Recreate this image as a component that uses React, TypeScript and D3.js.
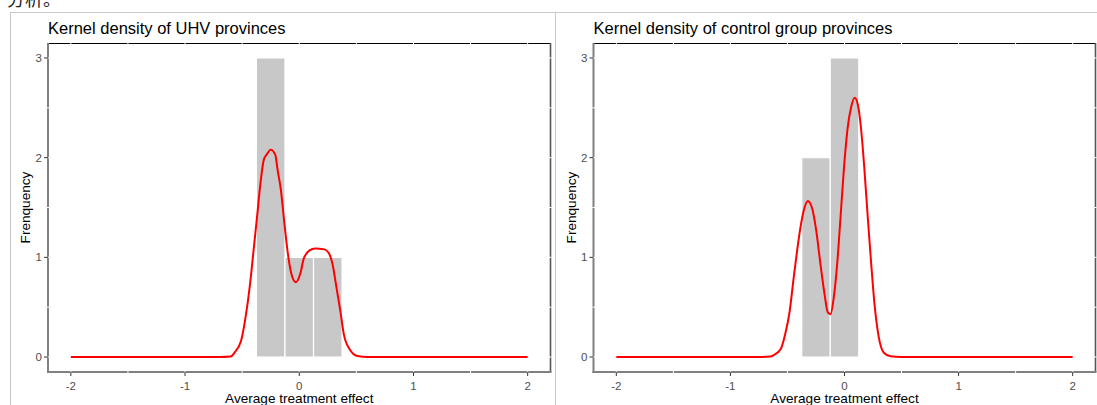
import React from "react";
import * as d3 from "d3";

// histogram bins (left edges) and counts, bin width 0.25
const uhvBinStart = [-0.375, -0.125, 0.125];
const uhvCounts = [3, 1, 1];
const ctrlBinStart = [-0.375, -0.125];
const ctrlCounts = [2, 3];
const binWidth = 0.25;

// kernel density curves
const uhvX = [-2, -0.7, -0.6, -0.57, -0.51, -0.47, -0.43, -0.4, -0.37, -0.34, -0.31, -0.28, -0.25, -0.21, -0.19, -0.16, -0.13, -0.1, -0.07, -0.03, 0.01, 0.04, 0.09, 0.14, 0.22, 0.26, 0.29, 0.32, 0.36, 0.39, 0.44, 0.51, 0.6, 2];
const uhvY = [0, 0, 0.005, 0.04, 0.16, 0.4, 0.74, 1.07, 1.4, 1.74, 1.98, 2.04, 2.08, 2.03, 1.88, 1.67, 1.34, 1.04, 0.84, 0.75, 0.84, 0.99, 1.07, 1.09, 1.08, 1.04, 0.94, 0.74, 0.46, 0.23, 0.08, 0.01, 0, 0];
const ctrlX = [-2, -0.75, -0.65, -0.62, -0.56, -0.52, -0.48, -0.445, -0.415, -0.386, -0.357, -0.322, -0.283, -0.248, -0.211, -0.175, -0.146, -0.123, -0.094, -0.064, -0.035, -0.006, 0.029, 0.059, 0.09, 0.117, 0.146, 0.175, 0.204, 0.234, 0.263, 0.301, 0.345, 0.404, 0.5, 2];
const ctrlY = [0, 0, 0.005, 0.02, 0.078, 0.229, 0.464, 0.8, 1.069, 1.3, 1.47, 1.566, 1.49, 1.27, 0.935, 0.632, 0.447, 0.43, 0.598, 0.935, 1.4, 1.875, 2.31, 2.51, 2.6, 2.53, 2.28, 1.875, 1.4, 0.935, 0.53, 0.195, 0.043, 0.007, 0, 0];

const xTicks = [-2, -1, 0, 1, 2];
const yTicks = [0, 1, 2, 3];
const xGrid = [-2, -1.5, -1, -0.5, 0, 0.5, 1, 1.5, 2];
const yGrid = [0, 0.5, 1, 1.5, 2, 2.5, 3];

const font = "'Liberation Sans', Arial, sans-serif";
const axisGrey = "#808080";

function Panel({ left, right, title, binStart, counts, cx, cy }) {
  const top = 43, bottom = 372;
  const x = d3.scaleLinear().domain([-2.2, 2.2]).range([left, right]);
  const y = d3.scaleLinear().domain([-0.15, 3.15]).range([bottom, top]);
  const line = d3
    .line<number>()
    .x((d, i) => x(cx[i]))
    .y((d) => y(d))
    .curve(d3.curveMonotoneX);
  const midX = (left + right) / 2;

  return (
    <g>
      <text x={left} y={34} fontFamily={font} fontSize={16.5} fill="#000">
        {title}
      </text>
      {/* panel border */}
      <line x1={left} x2={right} y1={top + 0.5} y2={top + 0.5} stroke="#000" strokeWidth={1} />
      <line x1={right} x2={right} y1={top} y2={bottom} stroke="#555" strokeWidth={1.6} />
      <line x1={left} x2={left} y1={top} y2={bottom + 1} stroke={axisGrey} strokeWidth={2} />
      <line x1={left - 1} x2={right + 1} y1={bottom} y2={bottom} stroke={axisGrey} strokeWidth={2} />
      {/* white grid */}
      {xGrid.map((g) => (
        <line key={"gx" + g} x1={x(g)} x2={x(g)} y1={top - 1} y2={bottom + 1} stroke="#fff" strokeWidth={1} />
      ))}
      {yGrid.map((g) => (
        <line key={"gy" + g} x1={left - 1} x2={right + 1} y1={y(g)} y2={y(g)} stroke="#fff" strokeWidth={1} />
      ))}
      {/* bars */}
      {binStart.map((b, i) => (
        <rect
          key={"b" + i}
          x={x(b)}
          y={y(counts[i])}
          width={x(b + binWidth) - x(b)}
          height={y(0) - y(counts[i])}
          fill="#c8c8c8"
          stroke="#fff"
          strokeWidth={1.2}
        />
      ))}
      <path d={line(cy) || ""} fill="none" stroke="#ff0000" strokeWidth={2} />
      {/* ticks */}
      {xTicks.map((t) => (
        <g key={"xt" + t}>
          <line x1={x(t)} x2={x(t)} y1={bottom} y2={bottom + 4} stroke="#333" strokeWidth={1} />
          <text x={x(t)} y={390} textAnchor="middle" fontFamily={font} fontSize={11.5} fill="#4d4d4d">
            {t}
          </text>
        </g>
      ))}
      {yTicks.map((t) => (
        <g key={"yt" + t}>
          <line x1={left - 4} x2={left} y1={y(t)} y2={y(t)} stroke="#333" strokeWidth={1} />
          <text x={left - 6} y={y(t)} dy="0.36em" textAnchor="end" fontFamily={font} fontSize={11.5} fill="#4d4d4d">
            {t}
          </text>
        </g>
      ))}
      <text x={midX} y={403} textAnchor="middle" fontFamily={font} fontSize={13.6} fill="#000">
        Average treatment effect
      </text>
      <text
        transform={`translate(${left - 18},${(top + bottom) / 2}) rotate(-90)`}
        textAnchor="middle"
        fontFamily={font}
        fontSize={13.6}
        fill="#000"
      >
        Frenquency
      </text>
    </g>
  );
}

export default function App() {
  return (
    <svg
      width={1097}
      height={405}
      style={{ position: "absolute", left: 0, top: 0, background: "#fff" }}
    >
      <rect x={0} y={0} width={1097} height={405} fill="#fff" />
      <text x={7} y={6} fontFamily="'Noto Sans CJK SC', sans-serif" fontSize={18} fill="#222">
        分析。
      </text>
      {/* screenshot frame */}
      <line x1={10} x2={1097} y1={12.5} y2={12.5} stroke="#c8c8c8" strokeWidth={1} />
      <line x1={10.5} x2={10.5} y1={12} y2={405} stroke="#c8c8c8" strokeWidth={1} />
      <line x1={555.5} x2={555.5} y1={12} y2={405} stroke="#c8c8c8" strokeWidth={1} />
      <Panel
        left={48}
        right={550.5}
        title="Kernel density of UHV provinces"
        binStart={uhvBinStart}
        counts={uhvCounts}
        cx={uhvX}
        cy={uhvY}
      />
      <Panel
        left={593.5}
        right={1095.5}
        title="Kernel density of control group provinces"
        binStart={ctrlBinStart}
        counts={ctrlCounts}
        cx={ctrlX}
        cy={ctrlY}
      />
    </svg>
  );
}
